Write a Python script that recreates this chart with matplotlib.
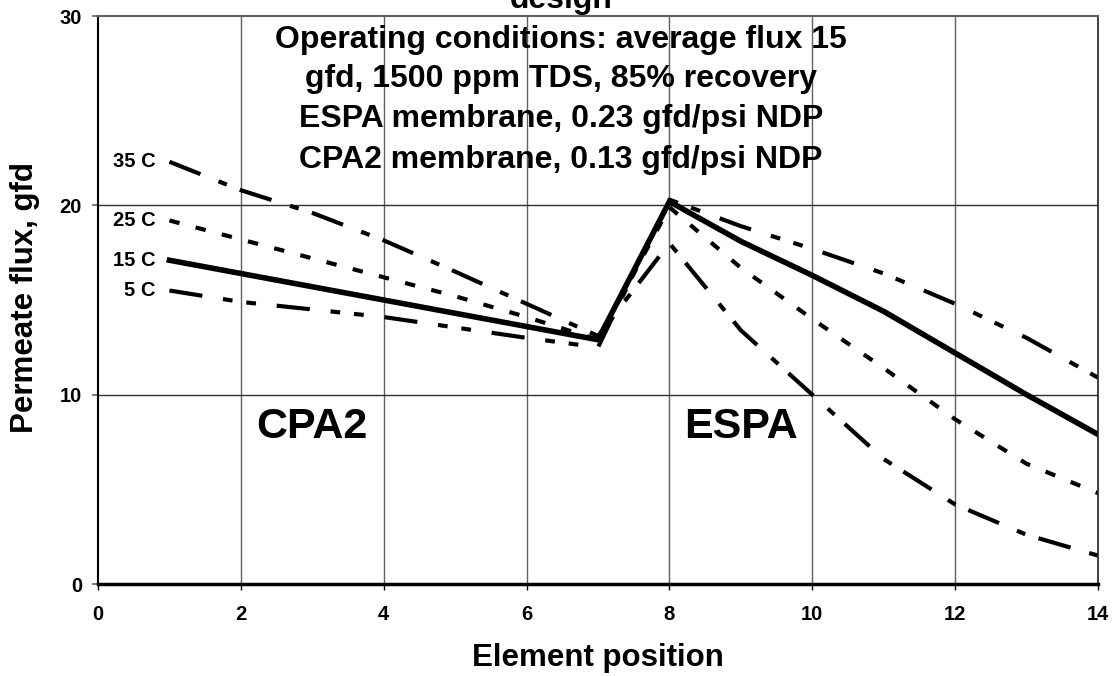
import matplotlib
matplotlib.use("Agg")
import matplotlib.pyplot as plt

plt.rcParams['font.family'] = ['Liberation Sans', 'DejaVu Sans']
plt.rcParams['font.weight'] = 'bold'
plt.rcParams['lines.scale_dashes'] = False

# ---- data ----
positions = list(range(1, 15))
flux_35C = [22.3, 20.8, 19.6, 18.15, 16.5, 14.8, 13.1, 18.0, 13.4, 10.0, 6.6, 4.2, 2.6, 1.5]
flux_25C = [19.2, 18.2, 17.2, 16.2, 15.2, 14.1, 12.9, 19.9, 16.7, 14.0, 11.4, 8.7, 6.35, 4.8]
flux_15C = [17.1, 16.4, 15.7, 15.0, 14.3, 13.6, 12.9, 20.2, 18.1, 16.3, 14.4, 12.2, 10.0, 7.9]
flux_5C = [15.5, 14.9, 14.5, 14.1, 13.55, 13.0, 12.5, 20.3, 18.9, 17.7, 16.4, 14.8, 13.0, 10.9]
series_labels = ["35 C", "25 C", "15 C", "5 C"]
x_ticks = [0, 2, 4, 6, 8, 10, 12, 14]
y_ticks = [0, 10, 20, 30]
title_lines = ["design",
               "Operating conditions: average flux 15",
               "gfd, 1500 ppm TDS, 85% recovery",
               "ESPA membrane, 0.23 gfd/psi NDP",
               "CPA2 membrane, 0.13 gfd/psi NDP"]

W, H = 1114, 676
fig = plt.figure(figsize=(W / 100, H / 100), dpi=100)
ax = fig.add_axes([98 / W, (H - 584) / H, 1000 / W, 568 / H])

ax.set_xlim(0, 14)
ax.set_ylim(0, 30)

# grid
for xv in x_ticks[1:-1]:
    ax.axvline(xv, color='#606060', lw=1.0, zorder=1)
for yv in y_ticks[1:-1]:
    ax.axhline(yv, color='#303030', lw=1.0, zorder=1)

ax.plot(positions, flux_35C, color='black', lw=3.0,
        dashes=(24, 14, 6.5, 10), zorder=3)
ax.plot(positions, flux_25C, color='black', lw=3.0,
        dashes=(7.5, 12), zorder=3)
ax.plot(positions, flux_15C, color='black', lw=4.0, solid_joinstyle='miter', zorder=4)
ax.plot(positions, flux_5C, color='black', lw=3.0,
        dashes=(24, 15, 7, 10, 7, 15), zorder=3)

# series labels near line starts
for lab, vals in zip(series_labels, [flux_35C, flux_25C, flux_15C, flux_5C]):
    ax.text(0.8, vals[0], lab, ha='right', va='center', fontsize=14.5, fontweight='bold')

ax.text(3.0, 7.7, "CPA2", ha='center', va='baseline', fontsize=31, fontweight='bold')
ax.text(9.0, 7.7, "ESPA", ha='center', va='baseline', fontsize=31, fontweight='bold')

# title block
title_y = [0, 40, 79, 119, 160]
for t, yy in zip(title_lines, title_y):
    fig.text(561 / W, 1 - yy / H, t, ha='center', va='center', fontsize=23, fontweight='bold',
             zorder=5)

ax.set_xticks(x_ticks)
ax.set_yticks(y_ticks)
ax.tick_params(axis='y', direction='out', length=4.5, width=1.5, color='#808080', pad=7,
               labelsize=14.5)
ax.tick_params(axis='x', direction='out', length=4, width=1.0, color='black', pad=11,
               labelsize=14.5)
for lab in ax.get_xticklabels() + ax.get_yticklabels():
    lab.set_fontweight('bold')

for side, lw, col in [('bottom', 2.5, 'black'), ('left', 1.5, 'black'),
                      ('top', 1.5, '#606060'), ('right', 1.2, '#202020')]:
    ax.spines[side].set_linewidth(lw)
    ax.spines[side].set_color(col)
    ax.spines[side].set_zorder(6)

ax.set_xlabel("Element position", fontsize=22.5, fontweight='bold', labelpad=14)
ax.set_ylabel("Permeate flux, gfd", fontsize=22.5, fontweight='bold')
ax.yaxis.set_label_coords(-0.058, 0.505)

fig.savefig("out.png", dpi=100)
